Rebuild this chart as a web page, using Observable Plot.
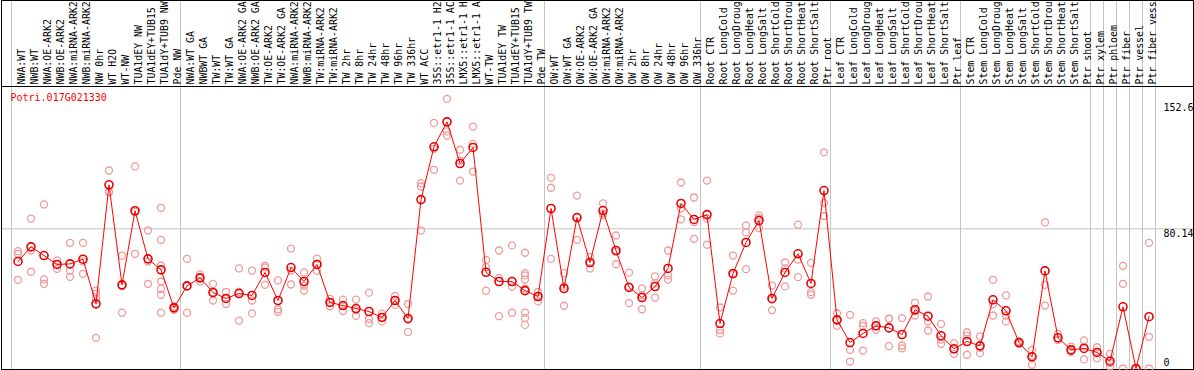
<!DOCTYPE html>
<html><head><meta charset="utf-8">
<script src="https://cdn.jsdelivr.net/npm/d3@7"></script>
<script src="https://cdn.jsdelivr.net/npm/@observablehq/plot@0.6"></script>
<style>html,body{margin:0;padding:0;background:#fff;overflow:hidden} svg{display:block}</style>
</head><body><div id="chart"></div>
<script>
const geneId = "Potri.017G021330";

const categories = [
  "NWA:WT","NWB:WT","NWA:OE-ARK2","NWB:OE-ARK2","NWA:miRNA-ARK2","NWB:miRNA-ARK2","NW 0hr","WT H2O","WT-NW","TUA1dEY NW","TUA1dEY+TUB15 NW","TUA1dY+TUB9 NW","Pde NW",
  "NWA:WT GA","NWBWT GA","TW:WT","TW:WT GA","NWA:OE-ARK2 GA","NWB:OE-ARK2 GA","TW:OE-ARK2","TW:OE-ARK2 GA","NWA:miRNA-ARK2 GA","NWB:miRNA-ARK2 GA","TW:miRNA-ARK2","TW:miRNA-ARK2 GA",
  "TW 2hr","TW 8hr","TW 24hr","TW 48hr","TW 96hr","TW 336hr","WT ACC","35S::etr1-1 H2O","35S::etr1-1 ACC","LMX5::etr1-1 H2O","LMX5::etr1-1 ACC","WT-TW","TUA1dEY TW","TUA1dEY+TUB15 TW","TUA1dY+TUB9 TW","Pde TW",
  "OW:WT","OW:WT GA","OW:OE-ARK2","OW:OE-ARK2 GA","OW:miRNA-ARK2","OW:miRNA-ARK2 GA","OW 2hr","OW 8hr","OW 24hr","OW 48hr","OW 96hr","OW 336hr",
  "Root CTR","Root LongCold","Root LongDrought","Root LongHeat","Root LongSalt","Root ShortCold","Root ShortDrought","Root ShortHeat","Root ShortSalt","Ptr root",
  "Leaf CTR","Leaf LongCold","Leaf LongDrought","Leaf LongHeat","Leaf LongSalt","Leaf ShortCold","Leaf ShortDrought","Leaf ShortHeat","Leaf ShortSalt","Ptr leaf",
  "Stem CTR","Stem LongCold","Stem LongDrought","Stem LongHeat","Stem LongSalt","Stem ShortCold","Stem ShortDrought","Stem ShortHeat","Stem ShortSalt","Ptr shoot",
  "Ptr xylem","Ptr phloem","Ptr fiber","Ptr vessel","Ptr fiber vessel"
];
// the header shows at most 14 characters of each label
const labelChars = 14;

const means = [
  61.4, 69.8, 64.8, 59.7, 60.0, 62.7, 37.1, 105.4, 48.0, 90.5, 62.9, 56.6, 34.8,
  47.4, 52.0, 43.6, 40.2, 43.0, 41.9, 55.1, 39.0, 57.9, 49.9, 59.7, 37.9,
  36.1, 34.4, 32.7, 29.3, 39.0, 28.7, 96.9, 127.2, 141.5, 117.6, 126.8, 55.2, 49.9, 49.9, 44.7, 41.3,
  91.8, 45.9, 86.6, 60.8, 90.6, 67.7, 46.5, 40.7, 47.0, 57.4, 94.7, 85.5,
  88.3, 25.8, 54.5, 72.3, 84.9, 40.2, 55.1, 65.8, 48.8, 102.1,
  27.9, 14.9, 20.1, 24.5, 23.3, 19.5, 33.7, 30.0, 18.8, 11.3,
  15.5, 13.0, 39.4, 33.1, 14.9, 6.7, 56.0, 17.6, 10.7, 11.5,
  9.2, 4.2, 35.4, 0, 29.7
];

const replicates = [
  [67.3, 65.8, 50.9], [86.0, 67.7, 55.5], [94.1, 51.1, 48.6], [62.0, 59.9, 57.2], [72.1, 56.2, 52.6], [72.1, 61.4, 54.3],
  [44.7, 42.8, 40.0, 17.6], [113.6, 101.5, 101.1], [64.8, 47.2, 32.0], [115.9, 89.8, 65.8], [79.2, 61.4, 48.6],
  [92.2, 73.8, 59.1, 49.9, 45.7, 42.3, 32.0], [35.6, 35.0, 33.7],
  [62.9, 47.3, 32.0], [54.0, 52.0, 50.0], [48.5, 43.5, 39.0], [44.0, 40.0, 37.0], [57.4, 44.0, 27.5], [56.2, 39.0, 31.6],
  [59.0, 58.0, 48.0], [50.5, 34.0, 32.5], [68.8, 56.2, 48.2], [55.1, 47.6, 44.7], [63.0, 60.0, 56.0], [40.0, 38.0, 35.7],
  [39.5, 36.0, 33.0], [39.5, 33.5, 30.2], [43.5, 28.5, 26.0], [31.5, 29.5, 27.0], [41.5, 39.0, 36.5], [37.0, 28.0, 21.0],
  [106.3, 104.4, 79.2], [140.9, 126.0, 114.0], [154.7, 136.0, 133.7], [125.5, 119.3, 107.8], [138.8, 128.9, 113.0],
  [62.3, 58.1, 44.7], [67.7, 52.0, 30.0], [70.6, 47.0, 32.0], [66.4, 54.7, 53.4, 51.0, 46.0, 32.0, 29.0, 25.0], [44.0, 41.5, 38.5],
  [109.4, 103.7, 62.9], [54.7, 47.0, 36.0], [99.2, 86.8, 73.8], [64.0, 61.0, 57.4], [94.7, 89.0, 88.0], [76.3, 67.0, 59.8],
  [55.0, 47.0, 37.5], [46.0, 42.0, 34.0], [52.8, 48.8, 40.7], [67.7, 53.4, 51.0], [106.7, 91.8, 85.6], [98.1, 84.0, 74.4],
  [107.8, 86.0, 71.0], [35.0, 22.2, 20.1], [64.8, 54.0, 44.7], [82.0, 78.0, 57.0], [87.8, 86.2, 80.6], [47.6, 39.5, 33.5],
  [60.8, 57.4, 47.1], [82.5, 62.5, 52.4], [60.6, 43.8, 42.3], [124.0, 95.0, 87.5],
  [31.7, 27.5, 24.5], [30.8, 10.7, 4.0], [26.0, 24.5, 10.3], [27.0, 24.3, 22.2], [28.5, 28.6, 12.8], [28.9, 13.2, 11.6],
  [37.7, 33.0, 30.4], [41.3, 26.9, 21.8], [25.6, 16.6, 14.2], [14.5, 11.0, 8.4],
  [20.8, 18.9, 7.9], [18.4, 11.8, 8.8], [50.9, 36.9, 30.4], [41.9, 30.4, 27.0], [15.5, 15.0, 14.2], [10.7, 7.3, 2.1],
  [83.8, 48.0, 36.1], [19.9, 16.5, 16.4], [12.6, 10.1, 9.4], [16.1, 12.6, 5.2],
  [12.2, 9.5, 5.9], [8.4, 3.2, 1.1], [58.9, 48.6, 0], [0, 0, 0], [72.1, 18.2, 0]
];

const groupStarts = ["NWA:WT","NWA:WT GA","OW:WT","Root CTR","Leaf CTR","Stem CTR","Ptr xylem","Ptr phloem","Ptr fiber","Ptr vessel","Ptr fiber vessel"];
const yTicks = [152.6, 80.14, 0];

const W = 1194, H = 370, mL = 11, mR = 38.5, mT = 102, mB = 2;
const bw = (W - mL - mR) / categories.length;
const font = "'DejaVu Sans Mono', monospace";
const grid = "#c4c4c4";

const meanRows = categories.map((c, i) => ({category: c, value: means[i]}));
const repRows = categories.flatMap((c, i) => replicates[i].map(v => ({category: c, value: v})));

const chart = Plot.plot({
  width: W, height: H,
  marginLeft: mL, marginRight: mR, marginTop: mT, marginBottom: mB,
  style: {fontFamily: font, fontSize: "10px", background: "white", overflow: "hidden"},
  x: {type: "band", domain: categories, padding: 0, axis: null},
  y: {domain: [0, yTicks[0]], axis: null},
  marks: [
    Plot.ruleY([yTicks[1]], {stroke: grid, insetLeft: -10, insetRight: -37.5}),
    Plot.ruleX(groupStarts, {x: d => d, dx: -bw / 2, stroke: grid, insetTop: -mT, insetBottom: -1}),
    Plot.ruleX(categories.slice(-1), {x: d => d, dx: bw / 2, stroke: grid, insetTop: -mT, insetBottom: -1}),
    Plot.ruleY([yTicks[0]], {dy: -16, stroke: "black", insetLeft: -10, insetRight: -37.5}),
    Plot.frame({stroke: "black", insetLeft: -10, insetRight: -37.5, insetTop: -mT, insetBottom: -1}),
    Plot.text(categories, {x: d => d, text: d => d.slice(0, labelChars).trimEnd(), frameAnchor: "top", dy: -18, rotate: -90,
      textAnchor: "start", fill: "black", fontFamily: font, fontSize: 9.9}),
    Plot.text([geneId], {text: d => d, frameAnchor: "top-left", dx: -1, dy: -9, lineAnchor: "top",
      textAnchor: "start", fill: "#ff0000", fontFamily: font, fontSize: 10}),
    Plot.text(yTicks.slice(0, 2), {y: d => d, text: d => String(d), frameAnchor: "right", dx: 7.5, dy: 1,
      textAnchor: "start", lineAnchor: "top", fill: "black", fontFamily: font, fontSize: 10}),
    Plot.text(yTicks.slice(2), {y: d => d, text: d => String(d), frameAnchor: "right", dx: 7.5, dy: -3,
      textAnchor: "start", lineAnchor: "bottom", fill: "black", fontFamily: font, fontSize: 10}),
    Plot.dot(repRows, {x: "category", y: "value", r: 3.5, stroke: "#f09a9a", strokeWidth: 1.3, fill: "none"}),
    Plot.line(meanRows, {x: "category", y: "value", stroke: "#ff0000", strokeWidth: 1}),
    Plot.dot(meanRows, {x: "category", y: "value", r: 4, stroke: "#e80000", strokeWidth: 1.6, fill: "none"})
  ]
});
document.getElementById("chart").appendChild(chart);
</script>
</body></html>
